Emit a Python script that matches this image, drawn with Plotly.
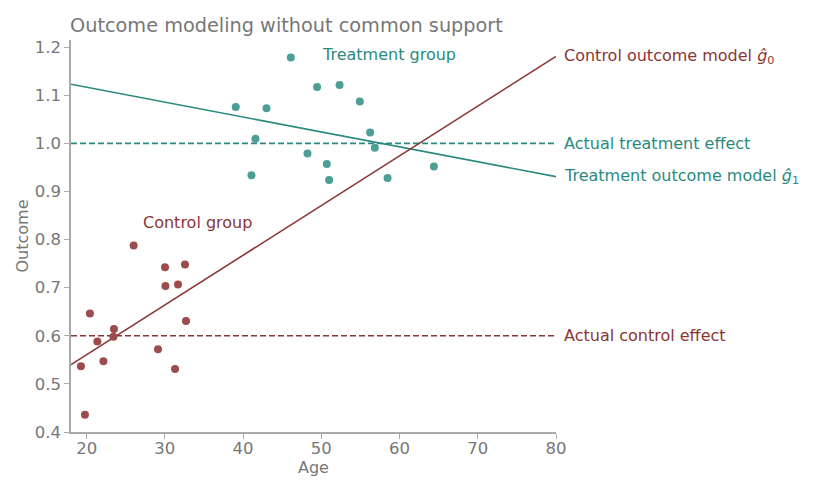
import plotly.graph_objects as go

# Data
treat_age = [46.10, 39.06, 42.99, 49.46, 52.33, 54.92, 41.58, 56.24, 56.84, 48.23, 50.70, 41.07, 51.00, 58.47, 64.39]
treat_out = [1.1785, 1.0756, 1.0729, 1.1173, 1.1215, 1.0869, 1.0098, 1.0229, 0.991, 0.979, 0.957, 0.934, 0.924, 0.928, 0.952]
ctrl_age = [26.01, 30.02, 32.57, 30.07, 31.68, 20.42, 32.70, 23.49, 21.37, 23.42, 29.12, 22.14, 19.27, 31.30, 19.78]
ctrl_out = [0.7875, 0.7423, 0.7485, 0.7035, 0.7069, 0.6465, 0.6306, 0.614, 0.5881, 0.598, 0.5723, 0.5473, 0.5369, 0.531, 0.436]

model_x = [18, 80]
treat_model = [1.123, 0.931]
ctrl_model = [0.540, 1.181]
treat_effect = 1.0
ctrl_effect = 0.6

TEAL = "#2a8a80"
TEAL_PT = "#4c9e97"
RED = "#8b3535"
RED_PT = "#9c4c4c"
GRAY = "#777777"

fig = go.Figure()
fig.add_trace(go.Scatter(x=model_x, y=[treat_effect] * 2, mode="lines",
                         line=dict(color=TEAL, width=1.6, dash="6px,3px")))
fig.add_trace(go.Scatter(x=model_x, y=[ctrl_effect] * 2, mode="lines",
                         line=dict(color=RED, width=1.6, dash="6px,3px")))
fig.add_trace(go.Scatter(x=model_x, y=treat_model, mode="lines",
                         line=dict(color=TEAL, width=1.6)))
fig.add_trace(go.Scatter(x=model_x, y=ctrl_model, mode="lines",
                         line=dict(color=RED, width=1.6)))
fig.add_trace(go.Scatter(x=treat_age, y=treat_out, mode="markers",
                         marker=dict(color=TEAL_PT, size=8)))
fig.add_trace(go.Scatter(x=ctrl_age, y=ctrl_out, mode="markers",
                         marker=dict(color=RED_PT, size=8)))

ann = [
    dict(x=80, y=ctrl_model[1], text="Control outcome model <i>ĝ</i><sub>0</sub>", color=RED),
    dict(x=80, y=treat_effect, text="Actual treatment effect", color=TEAL),
    dict(x=80, y=treat_model[1], text="Treatment outcome model <i>ĝ</i><sub>1</sub>", color=TEAL),
    dict(x=80, y=ctrl_effect, text="Actual control effect", color=RED),
]
for a in ann:
    fig.add_annotation(x=a["x"], y=a["y"], text=a["text"], showarrow=False,
                       xanchor="left", yanchor="middle", xshift=6,
                       font=dict(color=a["color"], size=16))
fig.add_annotation(x=58.7, y=1.1854, text="Treatment group", showarrow=False,
                   xanchor="center", yanchor="middle", font=dict(color=TEAL, size=16))
fig.add_annotation(x=34.2, y=0.835, text="Control group", showarrow=False,
                   xanchor="center", yanchor="middle", font=dict(color=RED, size=16))

fig.update_layout(
    width=822, height=493,
    margin=dict(l=63, r=274, t=32, b=69),
    plot_bgcolor="white", paper_bgcolor="white",
    showlegend=False,
    font=dict(family="DejaVu Sans", color=GRAY, size=16),
    title=dict(text="Outcome modeling without common support", x=62 / 822, xanchor="left",
               y=1 - 17 / 493, yanchor="middle", font=dict(size=19.3, color=GRAY)),
)
fig.update_xaxes(range=[18, 80], tickvals=[20, 30, 40, 50, 60, 70, 80],
                 showgrid=False, zeroline=False, showline=True, linecolor="#aaaaaa",
                 linewidth=1.5, ticks="outside", tickcolor="#aaaaaa", ticklen=5,
                 ticklabelstandoff=-5,
                 tickfont=dict(size=16.5, color=GRAY),
                 title=dict(text="Age", font=dict(size=16, color=GRAY), standoff=4))
fig.update_yaxes(range=[0.4, 1.215], tickvals=[0.4, 0.5, 0.6, 0.7, 0.8, 0.9, 1.0, 1.1, 1.2],
                 ticktext=["0.4", "0.5", "0.6", "0.7", "0.8", "0.9", "1.0", "1.1", "1.2"],
                 showgrid=False, zeroline=False, showline=True, linecolor="#aaaaaa",
                 linewidth=1.5, ticks="outside", tickcolor="#aaaaaa", ticklen=5,
                 tickfont=dict(size=16.5, color=GRAY),
                 title=dict(text="Outcome", font=dict(size=16, color=GRAY), standoff=2))

fig.write_html("out.html")
